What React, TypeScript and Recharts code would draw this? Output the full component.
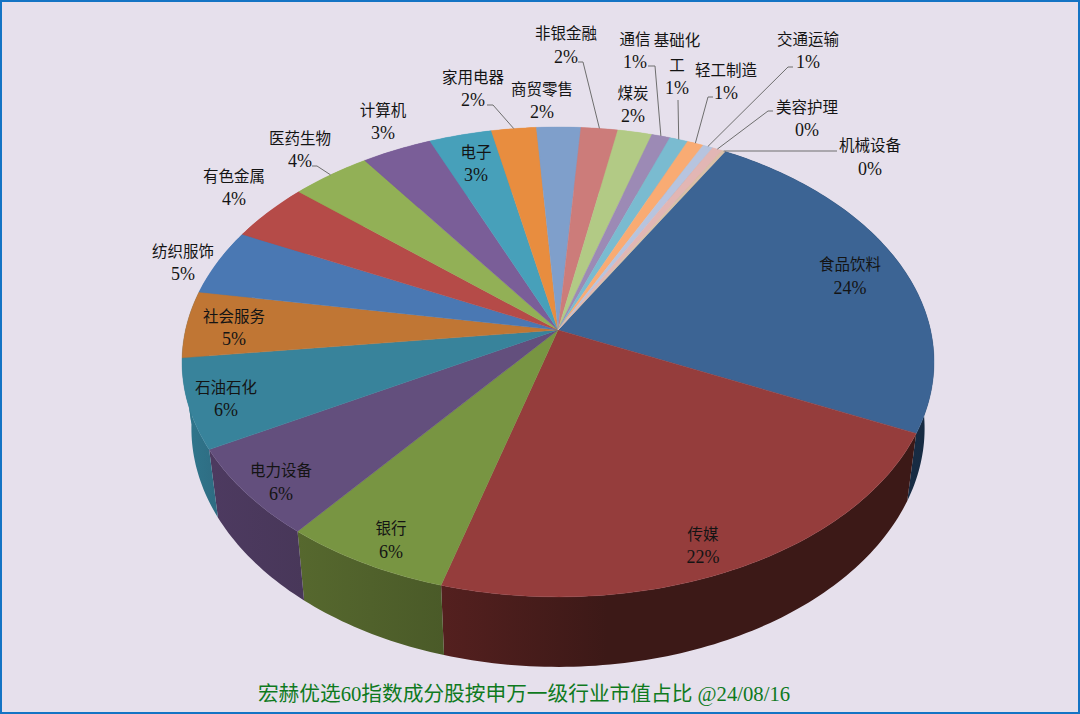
import React from 'react';
import { Pie, PieChart } from 'recharts';

const INDUSTRIES = [
  '食品饮料', '传媒', '银行', '电力设备', '石油石化', '社会服务', '纺织服饰',
  '有色金属', '医药生物', '计算机', '电子', '家用电器', '商贸零售', '非银金融',
  '煤炭', '通信', '基础化工', '轻工制造', '交通运输', '美容护理', '机械设备',
];
const SHARES = [
  23.56, 22.43, 6.34, 6.2, 6.15, 4.58, 4.55, 4.07, 3.9, 3.45, 3.07, 2.2, 2.16, 1.8,
  1.68, 0.9, 0.9, 0.8, 0.5, 0.49, 0.17,
];
const TOP_COLORS = [
  '#3C6494', '#953D3C', '#789542', '#634F7D', '#38839B', '#C07634', '#4A78B3',
  '#B54B48', '#92B056', '#7A5E98', '#47A0BA', '#E88D3F', '#7F9FCB', '#CC7C7A',
  '#B2CA85', '#9C8AB5', '#7ABBD0', '#F9AB73', '#B7C4DF', '#E2B6B4', '#D9C0A8',
];
// left and right colour of each slice's outer wall, only the front ones show
const WALL_LEFT = ['#1A3350', '#54201F', '#56682E', '#4D3A60', '#30788E', '#30788E'];
const WALL_RIGHT = ['#172B42', '#3C1917', '#4A5A28', '#483759', '#2E6C82', '#30788E'];
const WALL_FADE_END = [1, 0.35, 1, 1, 1, 1];

// label layout: centre x, y of each text line
const LABEL_SPOTS: Record<string, { x: number; y: number[]; lines?: string[] }> = {
  食品饮料: { x: 850, y: [264, 288] },
  传媒: { x: 703, y: [534, 557] },
  银行: { x: 391, y: [528, 552] },
  电力设备: { x: 281, y: [470, 494] },
  石油石化: { x: 226, y: [387, 410] },
  社会服务: { x: 234, y: [316, 339] },
  纺织服饰: { x: 183, y: [251, 274] },
  有色金属: { x: 234, y: [176, 199] },
  医药生物: { x: 300, y: [138, 161] },
  计算机: { x: 383, y: [110, 133] },
  电子: { x: 476, y: [152, 175] },
  家用电器: { x: 473, y: [77, 100] },
  商贸零售: { x: 542, y: [89, 112] },
  非银金融: { x: 566, y: [33, 57] },
  煤炭: { x: 633, y: [93, 116] },
  通信: { x: 635, y: [39, 62] },
  基础化工: { x: 677, y: [40, 65, 88], lines: ['基础化', '工'] },
  轻工制造: { x: 726, y: [70, 93] },
  交通运输: { x: 808, y: [39, 62] },
  美容护理: { x: 807, y: [107, 130] },
  机械设备: { x: 870, y: [145, 169] },
};
// where a leader line leaves the label, it then runs to the rim of its slice
const LEADER_STARTS: Record<string, number[][]> = {
  医药生物: [[312, 166], [317, 166]],
  家用电器: [[487, 105], [493, 105]],
  非银金融: [[578, 62], [583, 62]],
  通信: [[648, 66], [655, 66]],
  基础化工: [[678, 100]],
  轻工制造: [[713, 97], [708, 97]],
  交通运输: [[793, 67], [788, 67]],
  美容护理: [[773, 111], [768, 111]],
  机械设备: [[837, 151]],
};

const RX = 372.5;
const RY = 230.6;
const TILT = 0.136;
const FONT = '"Liberation Serif", "Noto Sans CJK SC", serif';

const rows = INDUSTRIES.map((name, i) => ({ name, value: SHARES[i], fill: TOP_COLORS[i] }));
const wallRows = INDUSTRIES.map((name, i) => ({
  name,
  value: SHARES[i],
  fill: i < WALL_LEFT.length ? `url(#wall-${i})` : TOP_COLORS[i],
}));

// perspective view of a point on the pie's rim
function rimPoint(deg: number, cx: number, cy: number) {
  const a = (deg * Math.PI) / 180;
  const w = 1 + TILT * Math.sin(a);
  return [cx + (RX * Math.cos(a)) / w, cy - (RY * Math.sin(a)) / w];
}

function lowerPoint(deg: number, cx: number, cy: number) {
  const [x, y] = rimPoint(deg, cx, cy);
  return [cx + 0.975 * (x - cx), y + 66 + 0.015 * (y - cy)];
}

function arc(from: number, to: number, at: (d: number) => number[]) {
  const n = Math.max(2, Math.ceil(Math.abs(to - from)));
  const pts: number[][] = [];
  for (let i = 0; i <= n; i++) pts.push(at(from + ((to - from) * i) / n));
  return pts;
}

const toPath = (pts: number[][]) =>
  'M' + pts.map((p) => `${p[0].toFixed(2)},${p[1].toFixed(2)}`).join('L') + 'Z';

function TopSlice(props: any) {
  const { cx, cy, startAngle, endAngle, fill } = props;
  const pts = [[cx, cy], ...arc(startAngle, endAngle, (d) => rimPoint(d, cx, cy))];
  return <path d={toPath(pts)} fill={fill} stroke={fill} strokeWidth={0.4} />;
}

function WallSlice(props: any) {
  const { cx, cy, startAngle, endAngle, fill } = props;
  const pts = [
    ...arc(startAngle, endAngle, (d) => rimPoint(d, cx, cy)),
    ...arc(endAngle, startAngle, (d) => lowerPoint(d, cx, cy)),
  ];
  return <path d={toPath(pts)} fill={fill} />;
}

function SliceLabel(props: any) {
  const { cx, cy, midAngle, name, value } = props;
  const spot = LABEL_SPOTS[name];
  const lines = [...(spot.lines ?? [name]), `${Math.round(value)}%`];
  const leader = LEADER_STARTS[name];
  const end = rimPoint(midAngle, cx, cy);
  return (
    <g>
      {leader && (
        <polyline
          points={[...leader, end].map((p) => p.join(',')).join(' ')}
          fill="none"
          stroke="#6E6E6E"
          strokeWidth={1}
        />
      )}
      {lines.map((line, i) => (
        <text
          key={line}
          x={spot.x}
          y={spot.y[i]}
          textAnchor="middle"
          dominantBaseline="central"
          fill="#141414"
          fontFamily={FONT}
          fontSize={i === lines.length - 1 ? 18 : 15.5}
        >
          {line}
        </text>
      ))}
    </g>
  );
}

export default function App() {
  return (
    <div
      style={{
        position: 'relative',
        width: 1080,
        height: 714,
        background: '#E6E0EC',
        boxShadow: 'inset 0 0 0 2px #1474C4',
        overflow: 'hidden',
      }}
    >
      <style>{'body{margin:0}'}</style>
      <PieChart width={1080} height={714} margin={{ top: 0, right: 0, bottom: 0, left: 0 }}>
        <defs>
          {WALL_LEFT.map((left, i) => (
            <linearGradient key={i} id={`wall-${i}`} x1="0" y1="0" x2="1" y2="0">
              <stop offset="0%" stopColor={left} />
              <stop offset={`${WALL_FADE_END[i] * 100}%`} stopColor={WALL_RIGHT[i]} />
            </linearGradient>
          ))}
        </defs>
        <Pie
          data={wallRows}
          dataKey="value"
          nameKey="name"
          cx={558}
          cy={330}
          outerRadius={RX}
          startAngle={59.9}
          endAngle={-300.1}
          stroke="none"
          shape={WallSlice}
          isAnimationActive={false}
        />
        <Pie
          data={rows}
          dataKey="value"
          nameKey="name"
          cx={558}
          cy={330}
          outerRadius={RX}
          startAngle={59.9}
          endAngle={-300.1}
          stroke="none"
          shape={TopSlice}
          label={SliceLabel}
          labelLine={false}
          isAnimationActive={false}
        />
      </PieChart>
      <div
        style={{
          position: 'absolute',
          left: 0,
          width: 1048,
          top: 682,
          textAlign: 'center',
          fontFamily: FONT,
          fontSize: 20.7,
          lineHeight: '24px',
          color: '#0F7A1E',
          whiteSpace: 'pre',
        }}
      >
        宏赫优选60指数成分股按申万一级行业市值占比 @24/08/16
      </div>
    </div>
  );
}
